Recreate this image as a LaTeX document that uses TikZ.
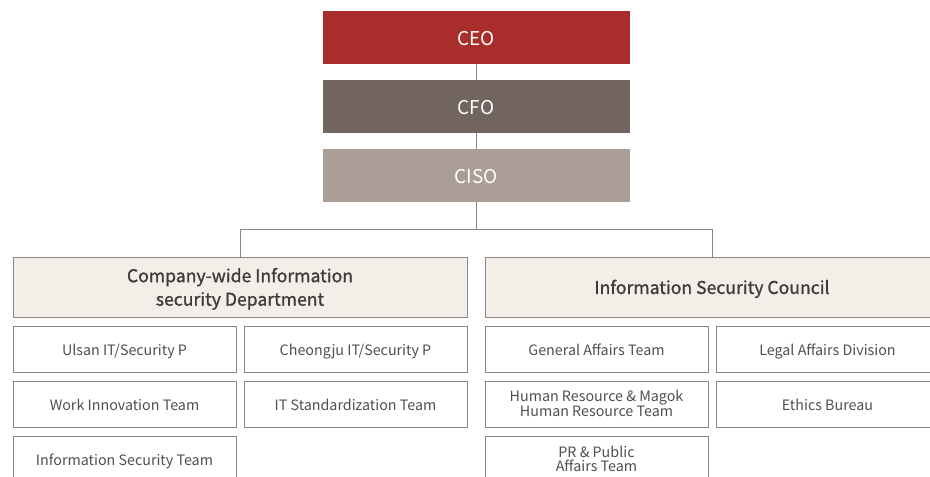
\documentclass[tikz,border=0pt]{standalone}
\usepackage{fontspec}
\setmainfont{Noto Sans CJK KR}
\newfontfamily\headfont[FakeBold=1.0]{Noto Sans CJK KR}
\usetikzlibrary{positioning}
\definecolor{ceored}{HTML}{A82D2B}
\definecolor{cfobrown}{HTML}{726560}
\definecolor{cisotaupe}{HTML}{A99D95}
\definecolor{headfill}{HTML}{F3EEE8}
\definecolor{edgegray}{HTML}{8E8480}
\definecolor{textdark}{HTML}{3C3C3C}
\begin{document}
\begin{tikzpicture}[
    x=1pt, y=1pt,
    chief/.style={rectangle, minimum width=307pt, minimum height=53pt, inner sep=0pt, outer sep=0pt, text=white, text height=16.2pt, text depth=0pt, font=\fontsize{19}{22}\selectfont},
    head/.style={rectangle, draw=edgegray, line width=1pt, fill=headfill, minimum width=454pt, minimum height=60pt, inner sep=0pt, outer sep=0pt, align=center, text=textdark, text height=12.9pt, text depth=0pt, font=\fontsize{17.6}{23.5}\headfont},
    unit/.style={rectangle, draw=edgegray, line width=1pt, fill=white, minimum width=223pt, minimum height=46.5pt, inner sep=0pt, outer sep=0pt, align=center, text=textdark!90, text height=12.3pt, text depth=0pt, font=\fontsize{14.3}{13.5}\selectfont},
    twoline/.style={text height=24pt},
    link/.style={draw=edgegray, line width=1pt}
]
\clip (0,0) rectangle (930,-477);

% Top of the chain
\node[chief, fill=ceored] (ceo) at (476,-37.3) {CEO};
\node[chief, fill=cfobrown, below=16pt of ceo] (cfo) {CFO};
\node[chief, fill=cisotaupe, below=16pt of cfo] (ciso) {CISO};

% Two branches
\node[head, text height=36.4pt] (dept) at (240,-287.5) {Company-wide Information\\security Department};
\node[head] (council) at (712,-287.5) {Information Security Council};

% Department teams
\node[unit, below=8.5pt of dept.south west, anchor=north west] (ulsan) {Ulsan IT/Security P};
\node[unit, right=8pt of ulsan] (cheongju) {Cheongju IT/Security P};
\node[unit, below=8.5pt of ulsan] (work) {Work Innovation Team};
\node[unit, below=8.5pt of cheongju] (itstd) {IT Standardization Team};
\node[unit, below=8.5pt of work] (infosec) {Information Security Team};

% Council members
\node[unit, below=8.5pt of council.south west, anchor=north west] (general) {General Affairs Team};
\node[unit, right=8pt of general] (legal) {Legal Affairs Division};
\node[unit, twoline, below=8.5pt of general] (hr) {Human Resource \& Magok\\Human Resource Team};
\node[unit, below=8.5pt of legal] (ethics) {Ethics Bureau};
\node[unit, twoline, below=8.5pt of hr] (pr) {PR \& Public\\Affairs Team};

% Lines
\coordinate (split) at (476,-229);
\draw[link] (ceo) -- (cfo);
\draw[link] (cfo) -- (ciso);
\draw[link] (ciso) -- (split);
\draw[link] (split) -| (dept);
\draw[link] (split) -| (council);

\end{tikzpicture}
\end{document}
